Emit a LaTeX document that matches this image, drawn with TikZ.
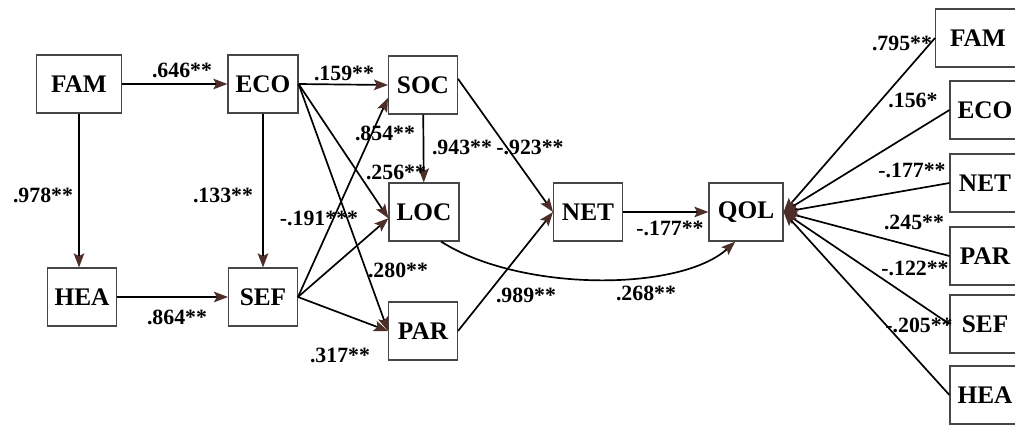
\documentclass[tikz,border=0pt]{standalone}
\usepackage{fontspec}
\setmainfont{Liberation Serif}
\usetikzlibrary{arrows.meta}

\definecolor{tipbrown}{RGB}{78,46,40}
\definecolor{boxgray}{RGB}{70,70,70}

\tikzset{
  box/.style={draw=boxgray, line width=0.8pt, minimum width=1.72cm, minimum height=1.45cm,
    inner sep=0pt, font=\bfseries\fontsize{18}{21}\selectfont},
  coef/.style={inner sep=0pt, font=\bfseries\fontsize{15.5}{19}\selectfont},
  arr/.style={line width=1.2pt, -{Stealth[length=10pt,width=7.5pt,inset=2pt,color=tipbrown]}}
}

\begin{document}
\begin{tikzpicture}[x=0.025cm,y=-0.025cm]

% Page frame
\clip (0,0) rectangle (1015,424);
\fill[white] (0,0) rectangle (1015,424);

% Left block
\node[box, minimum width=2.12cm] (FAM) at (79,84) {FAM};
\node[box, minimum width=1.75cm] (ECO) at (263,84) {ECO};
\node[box] (HEA) at (82,297) {HEA};
\node[box] (SEF) at (263,297) {SEF};

% Middle block
\node[box] (SOC) at (423,85) {SOC};
\node[box, minimum width=1.75cm] (LOC) at (424,212) {LOC};
\node[box] (PAR) at (423,331) {PAR};
\node[box] (NET) at (588,212) {NET};
\node[box, minimum width=1.85cm] (QOL) at (746,212) {QOL};

% Right block (indicators of QOL)
\foreach \nm/\xx/\yy/\ww in {FAM/978/38/2.12, ECO/985/110/1.75, NET/985/183/1.75,
    PAR/985/256/1.75, SEF/985/324/1.75, HEA/985/395/1.75} {
    \node[box, minimum width=\ww cm] (r\nm) at (\xx,\yy) {\nm};
}

% Paths
\draw[arr] (FAM) -- (ECO);
\draw[arr] (FAM.south) -- (FAM.south |- HEA.north);
\draw[arr] (ECO) -- (SEF);
\draw[arr] (HEA) -- (SEF);
\draw[arr] (ECO.east) -- (SOC.west);
\draw[arr] (ECO.east) -- (LOC.190);
\draw[arr] (ECO.east) -- (PAR.west);
\draw[arr] (SEF.east) -- (SOC.200);
\draw[arr] (SEF.east) -- (LOC.190);
\draw[arr] (SEF.east) -- (PAR.west);
\draw[arr] (SOC) -- (LOC);
\draw[arr] (SOC.10) -- (NET.west);
\draw[arr] (PAR.east) -- (NET.west);
\draw[arr] (NET) -- (QOL);
\draw[arr] (LOC.-60) .. controls (520,292) and (680,292) .. (QOL.-110);

\foreach \nm in {FAM,ECO,NET,PAR,SEF,HEA} {
    \draw[arr] (r\nm.west) -- (QOL.east);
}

% Coefficients
\node[coef] (cFamEco) at (182,70) {.646**};
\node[coef] (cFamHea) at (43,195) {.978**};
\node[coef] (cEcoSef) at (223,195) {.133**};
\node[coef] (cHeaSef) at (177,317) {.864**};
\node[coef] (cEcoSoc) at (344,73) {.159**};
\node[coef] (cSefSoc) at (385,133) {.854**};
\node[coef] (cSocLoc) at (462,147) {.943**};
\node[coef] (cSocNet) at (530,147) {-.923**};
\node[coef] (cEcoLoc) at (396,172) {.256**};
\node[coef] (cSefLoc) at (319,218) {-.191***};
\node[coef] (cEcoPar) at (398,270) {.280**};
\node[coef] (cParNet) at (526,295) {.989**};
\node[coef] (cSefPar) at (340,355) {.317**};
\node[coef] (cLocQol) at (646,293) {.268**};
\node[coef] (cNetQol) at (670,228) {-.177**};

\foreach \lab/\xx/\yy [count=\i] in {.795**/902/43, .156*/913/100, -.177**/912/170,
    .245**/914/222, -.122**/915/268, -.205**/919/325} {
    \node[coef] (cr\i) at (\xx,\yy) {\lab};
}

\end{tikzpicture}
\end{document}
